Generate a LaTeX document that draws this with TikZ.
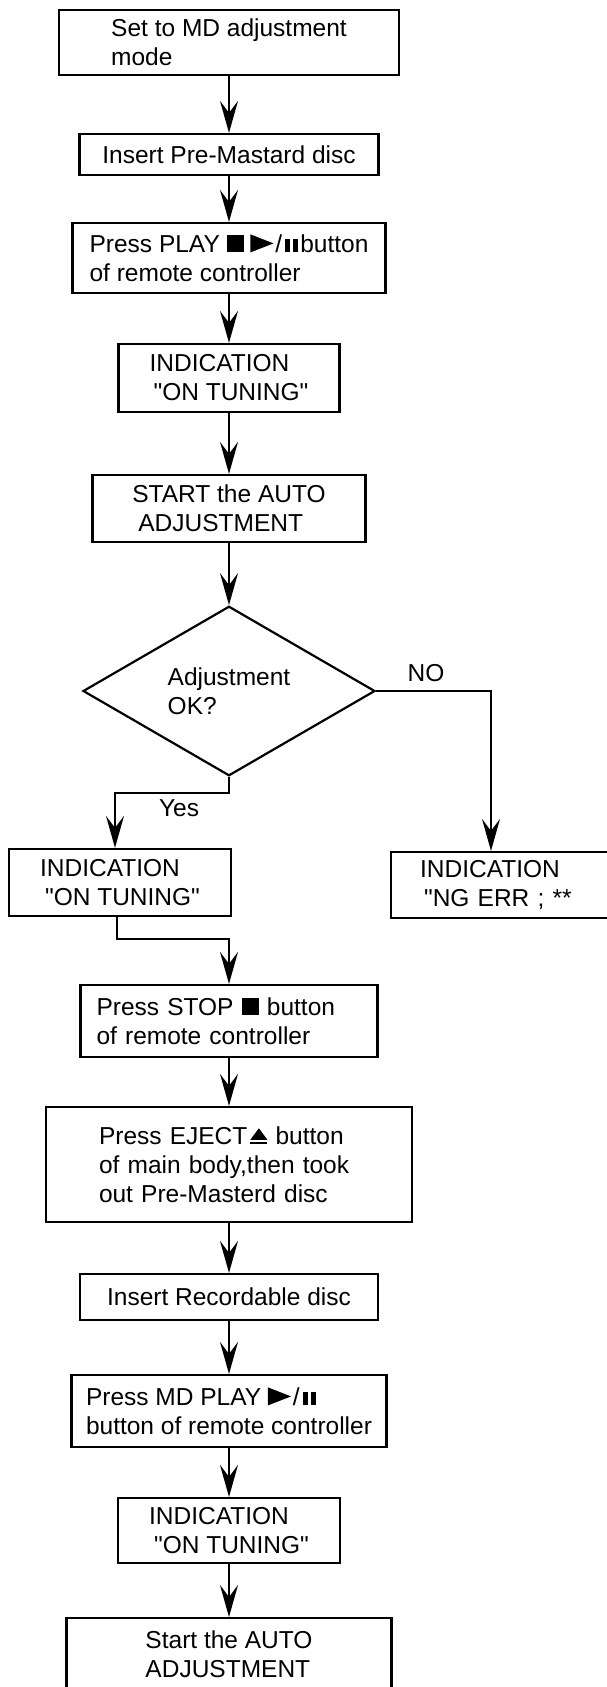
\documentclass[tikz,border=0pt]{standalone}
\usepackage{fontspec}
\setmainfont{Liberation Sans}[Ligatures=TeXOff]
\usetikzlibrary{arrows.meta,shapes.geometric}
\newcommand{\stopmark}{\tikz[baseline=0pt]\fill (0pt,0pt) rectangle (17pt,17pt);}
\newcommand{\playmark}{\tikz[baseline=0pt]\fill (0pt,0pt) -- (0pt,18pt) -- (23pt,9pt) -- cycle;}
\newcommand{\pausemark}{\tikz[baseline=0pt]{\fill (0pt,0pt) rectangle (5pt,13pt); \fill (8pt,0pt) rectangle (13pt,13pt);}}
\newcommand{\ejectmark}{\tikz[baseline=0pt]{\fill (0pt,4.5pt) -- (17pt,4.5pt) -- (8.5pt,16pt) -- cycle; \fill (0pt,0pt) rectangle (17pt,2.5pt);}}

\begin{document}
\begin{tikzpicture}[x=1pt,y=-1pt,
	every node/.style={font=\fontsize{24.5}{29}\selectfont},
	stepbox/.style={draw,line width=2.2pt,align=left,inner sep=0pt},
	testbox/.style={draw,diamond,line width=2.2pt,align=left,inner sep=0pt},
	flow/.style={line width=2pt,-{Stealth[length=32pt,width=18pt,inset=12pt]}}]
		\useasboundingbox (0,0) rectangle (607,1687);
		\node[stepbox,minimum width=340pt,minimum height=65pt] (mdmode) at (229,42.5) {Set to MD adjustment\\mode};
		\node[stepbox,minimum width=299pt,minimum height=41pt] (premaster) at (229,154.5) {Insert Pre-Mastard disc};
		\node[stepbox,minimum width=313pt,minimum height=70pt] (playkey) at (229,258) {Press PLAY \stopmark\ \playmark\kern2pt/\kern3pt\pausemark\kern2pt button\\of remote controller};
		\node[stepbox,minimum width=221pt,minimum height=68pt] (tuneone) at (229,378) {INDICATION\\\hspace*{4pt}"ON TUNING"};
		\node[stepbox,minimum width=273pt,minimum height=67pt] (autoone) at (229,508.5) {START the AUTO\\\hspace*{6pt}ADJUSTMENT};
		\node[testbox,minimum width=292pt,minimum height=163pt] (check) at (229,691) {Adjustment\\OK?};
		\node (nolbl) at (426,673) {NO};
		\node (yeslbl) at (179,808) {Yes};
		\node[stepbox,minimum width=222pt,minimum height=67pt] (tuneok) at (120,882.5) {INDICATION\\\hspace*{5pt}"ON TUNING"};
		\node[stepbox,anchor=west,text width=182pt,inner xsep=29pt,minimum height=66pt] (ngerr) at (390,885) {INDICATION\\\hspace*{4pt}"NG ERR ; **};
		\node[stepbox,text width=265pt,inner xsep=16pt,minimum height=72pt] (stopkey) at (229,1021) {Press STOP \stopmark\ button\\of remote controller};
		\node[stepbox,text width=260pt,inner xsep=53pt,minimum height=115pt] (ejectkey) at (229,1164.5) {Press EJECT\kern3pt\ejectmark\ button\\of main body,then took\\out Pre-Masterd disc};
		\node[stepbox,minimum width=298pt,minimum height=46pt] (recdisc) at (229,1297) {Insert Recordable disc};
		\node[stepbox,minimum width=315pt,minimum height=72pt] (mdplay) at (229,1411) {Press MD PLAY \playmark\kern2pt/\kern3pt\pausemark\\button of remote controller};
		\node[stepbox,minimum width=222pt,minimum height=65pt] (tunetwo) at (229,1530.5) {INDICATION\\\hspace*{5pt}"ON TUNING"};
		\node[stepbox,anchor=north,minimum width=325pt,minimum height=72pt] (autotwo) at (229,1617) {Start the AUTO\\ADJUSTMENT};
		\draw[flow] (mdmode) -- (premaster);
		\draw[flow] (premaster) -- (playkey);
		\draw[flow] (playkey) -- (tuneone);
		\draw[flow] (tuneone) -- (autoone);
		\draw[flow] (autoone) -- (check);
		\draw[flow] (check.east) -| ([xshift=101pt]ngerr.north west);
		\draw[flow] (check.south) -- ++(0,16) -| ([xshift=-5pt]tuneok.north);
		\draw[flow] ([xshift=-3pt]tuneok.south) -- ++(0,22) -| (stopkey.north);
		\draw[flow] (stopkey) -- (ejectkey);
		\draw[flow] (ejectkey) -- (recdisc);
		\draw[flow] (recdisc) -- (mdplay);
		\draw[flow] (mdplay) -- (tunetwo);
		\draw[flow] (tunetwo) -- (autotwo);
\end{tikzpicture}
\end{document}
